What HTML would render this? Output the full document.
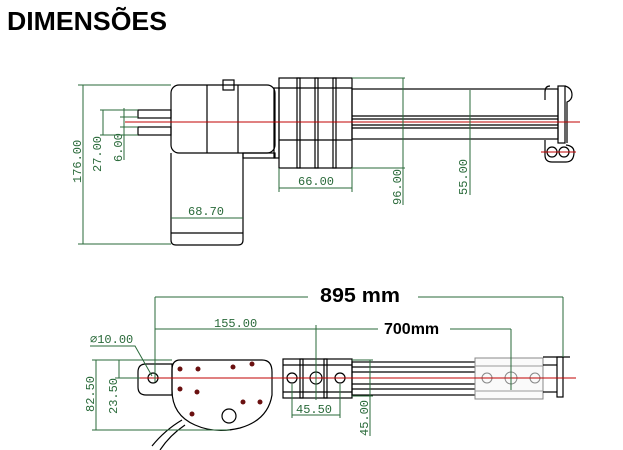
<!DOCTYPE html>
<html><head><meta charset="utf-8"><style>
html,body{margin:0;padding:0;background:#fff;width:623px;height:450px;overflow:hidden}
svg{display:block}
.k{fill:none;stroke:#000;stroke-width:1.2}
.g{fill:none;stroke:#2a6a3a;stroke-width:1}
.r{stroke:#c00000;stroke-width:1}
.t{font-family:"Liberation Mono",monospace;font-size:12px;fill:#2a6a3a}
.b{font-family:"Liberation Sans",sans-serif;font-weight:bold;fill:#000}
.d{fill:#6a1010}
</style></head><body>
<svg width="623" height="450" viewBox="0 0 623 450">
<text x="7" y="30" class="b" font-size="26" textLength="160" lengthAdjust="spacingAndGlyphs">DIMENSÕES</text>

<!-- TOP VIEW -->
<rect x="171" y="85" width="104" height="68" rx="8" class="k"/>
<line x1="207" y1="85" x2="207" y2="153" class="k"/>
<line x1="238" y1="85" x2="238" y2="153" class="k"/>
<rect x="223" y="80" width="11" height="10" class="k"/>
<path d="M171 153 V240 Q171 245 176 245 H238 Q243 245 243 240 V153" class="k"/>
<line x1="171" y1="233" x2="243" y2="233" class="k"/>
<rect x="243" y="153" width="32" height="5" class="k"/>
<rect x="138" y="110" width="33" height="8" class="k"/>
<rect x="138" y="127" width="33" height="8" class="k"/>
<rect x="274" y="88" width="5" height="70" class="k"/>
<rect x="279" y="78" width="73" height="90" class="k"/>
<line x1="279" y1="140" x2="352" y2="140" class="k"/>
<line x1="279" y1="88" x2="352" y2="88" class="k"/>
<rect x="297" y="78" width="3" height="90" class="k"/>
<rect x="315" y="78" width="3" height="90" class="k"/>
<rect x="333" y="78" width="3" height="90" class="k"/>
<rect x="352" y="89" width="206" height="50" class="k"/>
<line x1="352" y1="116" x2="558" y2="116" class="k"/>
<line x1="352" y1="119" x2="558" y2="119" class="k"/>
<line x1="352" y1="125" x2="558" y2="125" class="k"/>
<line x1="352" y1="128" x2="558" y2="128" class="k"/>
<rect x="558" y="86" width="7" height="57" class="k"/>
<path d="M550 86 Q545 86 545 92 V100 M565 86 Q572 88 572 95 Q572 100 567 102 V143" class="k"/>
<path d="M545 140 V155 Q545 162 552 162 H566 Q574 162 574 152 Q574 146 566 145" class="k"/>
<circle cx="552" cy="152" r="5" class="k"/><circle cx="564" cy="152" r="5" class="k"/>
<line x1="541" y1="152" x2="576" y2="152" class="r"/>
<line x1="125" y1="122" x2="580" y2="122" class="r"/>

<g class="g">
<line x1="83" y1="85" x2="83" y2="244"/><line x1="78" y1="85" x2="171" y2="85"/><line x1="78" y1="244" x2="171" y2="244"/>
<line x1="103" y1="110" x2="103" y2="135"/><line x1="100" y1="110" x2="138" y2="110"/><line x1="100" y1="135" x2="138" y2="135"/>
<line x1="124" y1="108" x2="124" y2="160"/><line x1="120" y1="117" x2="138" y2="117"/><line x1="120" y1="127" x2="138" y2="127"/>
<line x1="279" y1="188" x2="352" y2="188"/><line x1="279" y1="168" x2="279" y2="192"/><line x1="352" y1="168" x2="352" y2="192"/>
<line x1="171" y1="218" x2="243" y2="218"/>
<line x1="403" y1="78" x2="403" y2="205"/><line x1="352" y1="78" x2="405" y2="78"/><line x1="352" y1="168" x2="405" y2="168"/>
<line x1="470" y1="90" x2="470" y2="195"/>
</g>
<text class="t" transform="translate(81,183) rotate(-90)">176.00</text>
<text class="t" transform="translate(101,172) rotate(-90)">27.00</text>
<text class="t" transform="translate(122,162) rotate(-90)">6.00</text>
<text class="t" x="298" y="185">66.00</text>
<text class="t" x="188" y="215">68.70</text>
<text class="t" transform="translate(401,205) rotate(-90)">96.00</text>
<text class="t" transform="translate(467,195) rotate(-90)">55.00</text>

<!-- BOTTOM VIEW -->
<path d="M146 364 H172 V395 H146 Q138 395 138 387 V372 Q138 364 146 364 Z" class="k"/>
<path d="M180 360 H262 Q272 360 272 372 V395 Q268 420 240 428 Q215 434 195 425 Q172 415 172 390 V370 Q172 360 180 360 Z" class="k"/>
<circle cx="153" cy="378" r="5" class="k"/>
<g class="d">
<circle cx="180" cy="369" r="2.5"/><circle cx="198" cy="369" r="2.5"/><circle cx="233" cy="367" r="2.5"/><circle cx="252" cy="364" r="2.5"/>
<circle cx="180" cy="389" r="2.5"/><circle cx="197" cy="392" r="2.5"/><circle cx="243" cy="402" r="2.5"/><circle cx="260" cy="402" r="2.5"/>
<circle cx="192" cy="414" r="2.5"/>
</g>
<circle cx="229" cy="416" r="7" class="k"/>
<path d="M182 420 Q165 430 152 446 M185 425 Q170 435 160 450" class="k"/>
<rect x="283" y="359" width="69" height="39" class="k"/>
<line x1="283" y1="365" x2="352" y2="365" class="k"/><line x1="283" y1="392" x2="352" y2="392" class="k"/>
<rect x="300" y="359" width="3" height="39" class="k"/><rect x="324" y="359" width="3" height="39" class="k"/>
<circle cx="292" cy="378" r="5" class="k"/><circle cx="316" cy="378" r="6" class="k"/><circle cx="340" cy="378" r="5" class="k"/>
<rect x="352" y="362" width="124" height="33" class="k"/>
<line x1="352" y1="367" x2="476" y2="367" class="k"/><line x1="352" y1="372" x2="476" y2="372" class="k"/>
<line x1="352" y1="384" x2="476" y2="384" class="k"/><line x1="352" y1="389" x2="476" y2="389" class="k"/>
<rect x="475" y="358" width="68" height="41" fill="#fafafa" stroke="#888"/>
<line x1="475" y1="366" x2="543" y2="366" stroke="#999"/><line x1="475" y1="391" x2="543" y2="391" stroke="#999"/>
<circle cx="487" cy="378" r="5" fill="none" stroke="#888"/><circle cx="511" cy="378" r="6" fill="none" stroke="#888"/><circle cx="535" cy="378" r="5" fill="none" stroke="#888"/>
<line x1="543" y1="365" x2="557" y2="365" class="k"/><line x1="543" y1="392" x2="557" y2="392" class="k"/>
<rect x="557" y="357" width="6" height="40" class="k"/>
<line x1="543" y1="357" x2="570" y2="357" class="k"/>
<line x1="130" y1="378" x2="576" y2="378" class="r"/>
<line x1="511" y1="368" x2="511" y2="390" class="r"/><line x1="316" y1="368" x2="316" y2="390" class="r"/>

<g class="g">
<line x1="155" y1="297" x2="308" y2="297"/><line x1="418" y1="297" x2="563" y2="297"/>
<line x1="155" y1="297" x2="155" y2="382"/><line x1="563" y1="297" x2="563" y2="357"/>
<line x1="155" y1="329" x2="316" y2="329"/><line x1="316" y1="325" x2="316" y2="400"/>
<line x1="316" y1="329" x2="378" y2="329"/><line x1="450" y1="329" x2="511" y2="329"/><line x1="511" y1="329" x2="511" y2="390"/>
<polyline points="90,346 135,346 152,376"/>
<line x1="96" y1="360" x2="96" y2="430"/><line x1="92" y1="360" x2="172" y2="360"/><line x1="92" y1="430" x2="230" y2="430"/>
<line x1="119" y1="360" x2="119" y2="378"/><line x1="115" y1="378" x2="140" y2="378"/>
<line x1="292" y1="384" x2="292" y2="418"/><line x1="340" y1="384" x2="340" y2="418"/><line x1="292" y1="415" x2="340" y2="415"/>
<line x1="370" y1="360" x2="370" y2="436"/><line x1="352" y1="360" x2="373" y2="360"/><line x1="352" y1="396" x2="373" y2="396"/>
</g>
<text x="320" y="302" class="b" font-size="20" textLength="80" lengthAdjust="spacingAndGlyphs">895 mm</text>
<text x="384" y="334" class="b" font-size="16">700mm</text>
<text class="t" x="214" y="327">155.00</text>
<text class="t" x="90" y="343">⌀10.00</text>
<text class="t" transform="translate(94,412) rotate(-90)">82.50</text>
<text class="t" transform="translate(117,414) rotate(-90)">23.50</text>
<text class="t" x="296" y="413">45.50</text>
<text class="t" transform="translate(368,436) rotate(-90)">45.00</text>
</svg>
</body></html>
